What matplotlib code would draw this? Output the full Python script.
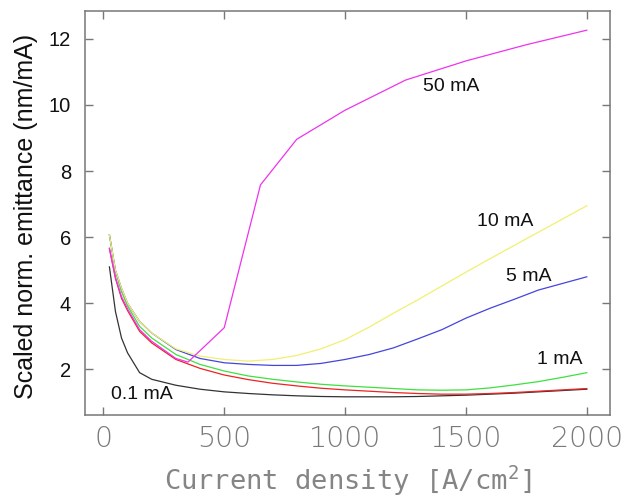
import matplotlib
matplotlib.use("Agg")
import matplotlib.pyplot as plt

plt.rcParams["mathtext.fontset"] = "custom"
plt.rcParams["mathtext.rm"] = "DejaVu Sans Mono"
plt.rcParams["mathtext.default"] = "rm"

# ---- data ----
x_common = [25, 50, 75, 100, 150, 200, 300, 400, 500, 600, 700, 800, 900, 1000,
            1100, 1200, 1300, 1400, 1500, 1600, 1700, 1800, 1900, 2000]
y_01mA = [5.1, 3.75, 2.95, 2.5, 1.9, 1.7, 1.52, 1.40, 1.32, 1.27, 1.23, 1.2, 1.18, 1.17,
          1.17, 1.17, 1.18, 1.2, 1.22, 1.25, 1.28, 1.32, 1.36, 1.40]
y_1mA = [6.07, 4.95, 4.35, 3.92, 3.3, 2.95, 2.45, 2.15, 1.95, 1.8, 1.7, 1.62, 1.55, 1.5,
         1.46, 1.42, 1.38, 1.37, 1.38, 1.44, 1.53, 1.63, 1.76, 1.9]
y_red = [5.66, 4.75, 4.15, 3.78, 3.15, 2.8, 2.3, 2.03, 1.83, 1.69, 1.58, 1.5, 1.43, 1.38,
         1.34, 1.3, 1.27, 1.25, 1.25, 1.27, 1.3, 1.34, 1.38, 1.42]
y_5mA = [6.07, 5.0, 4.45, 4.0, 3.45, 3.1, 2.6, 2.33, 2.2, 2.15, 2.12, 2.12, 2.18, 2.3,
         2.45, 2.65, 2.92, 3.2, 3.55, 3.85, 4.12, 4.4, 4.6, 4.8]
y_10mA = [6.07, 5.0, 4.45, 4.0, 3.45, 3.1, 2.62, 2.4, 2.3, 2.25, 2.3, 2.42, 2.62, 2.9,
          3.28, 3.7, 4.1, 4.52, 4.94, 5.35, 5.75, 6.15, 6.55, 6.95]
x_50mA = [25, 50, 75, 100, 150, 200, 300, 350, 500, 650, 800, 1000, 1250, 1500, 1750, 2000]
y_50mA = [5.66, 4.78, 4.2, 3.83, 3.2, 2.85, 2.33, 2.22, 3.26, 7.58, 8.96, 9.84, 10.75,
          11.33, 11.82, 12.26]

labels = ["50 mA", "10 mA", "5 mA", "1 mA", "0.1 mA"]
label_x = [1439, 1661, 1759, 1889, 159]
label_y = [10.55, 6.47, 4.81, 2.29, 1.23]

xticks = [0, 500, 1000, 1500, 2000]
yticks = [2, 4, 6, 8, 10, 12]

# ---- figure ----
fig = plt.figure(figsize=(6.35, 4.99), dpi=100)
ax = fig.add_axes([85/635, 1-415/499, 525/635, 404/499])

lw = 0.9
ax.plot(x_common, y_01mA, color="#333333", lw=lw)
ax.plot(x_common, y_red, color="#ee2222", lw=lw)
ax.plot(x_common, y_1mA, color="#3fe03f", lw=lw)
ax.plot(x_common, y_5mA, color="#4545dd", lw=lw)
ax.plot(x_common, y_10mA, color="#f0f070", lw=lw)
ax.plot(x_50mA, y_50mA, color="#ee33ee", lw=lw)

for t, lx, ly in zip(labels, label_x, label_y):
    ax.text(lx, ly, t, ha="center", va="center", fontsize=14,
            family="Liberation Sans", color="#111111")

ax.set_xlim(-76, 2096)
ax.set_ylim(0.62, 12.84)
ax.set_xticks(xticks)
ax.set_yticks(yticks)

for s in ax.spines.values():
    s.set_color("#777777")
    s.set_linewidth(1.1)

ax.tick_params(direction="in", top=True, right=True, length=6, width=1,
               color="#777777")
ax.tick_params(axis="x", pad=7, labelsize=20.5, labelcolor="#7a7a7a")
ax.tick_params(axis="y", pad=10, labelsize=14.5, labelcolor="#111111")
for lab in ax.get_xticklabels():
    lab.set_family("DejaVu Sans")
    lab.set_fontweight("light")
for lab in ax.get_yticklabels():
    lab.set_family("Liberation Sans")

fig.text(347.5/635, 9/499, "Current density [A/cm$^{2}$]", ha="center",
         va="baseline", fontsize=19.5, color="#858585", family="DejaVu Sans Mono")
fig.text(26/635, 1-216.7/499, "Scaled norm. emittance (nm/mA)", rotation=90,
         ha="center", va="center", fontsize=18, family="Liberation Sans",
         color="#111111")

fig.savefig("out.png", dpi=100, facecolor="white")
